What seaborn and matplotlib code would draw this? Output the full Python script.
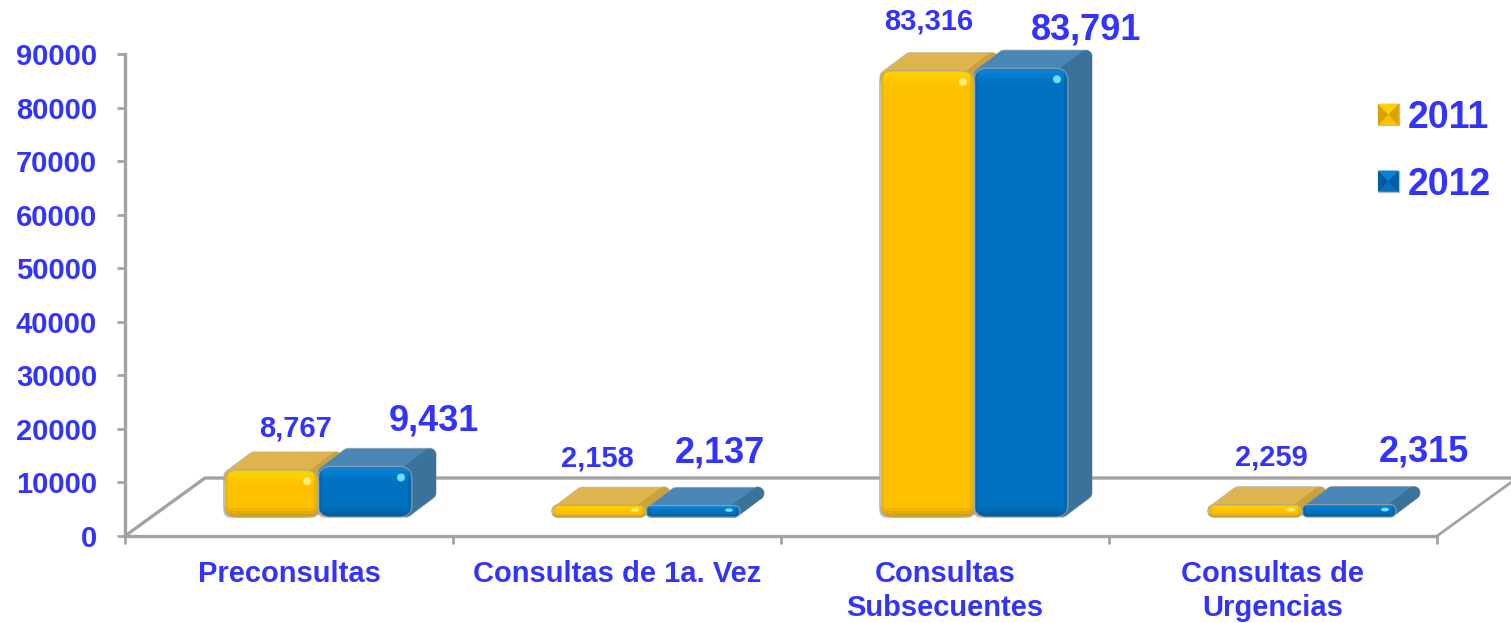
import matplotlib
matplotlib.use("Agg")
import matplotlib.pyplot as plt
import pandas as pd
import seaborn as sns
from matplotlib.patches import FancyBboxPatch, Polygon, Ellipse
from matplotlib.transforms import Affine2D, IdentityTransform

# %% DATA
categories = ["Preconsultas", "Consultas de 1a. Vez", "Consultas\nSubsecuentes", "Consultas de\nUrgencias"]
values_2011 = [8767, 2158, 83316, 2259]
values_2012 = [9431, 2137, 83791, 2315]
years = ["2011", "2012"]
y_ticks = [0, 10000, 20000, 30000, 40000, 50000, 60000, 70000, 80000, 90000]

# colours per year: front, top, side, light band, dark band, highlight
COLORS = {
    "2011": dict(front="#FFC000", top="#DDB44E", side="#C9A23C", light="#FFD000", dark="#D8A200", dot="#FFF08A"),
    "2012": dict(front="#0070C0", top="#4A86B6", side="#3A7299", light="#0A80D2", dark="#005C9E", dot="#7FE8FF"),
}
BLUE = "#3333FF"
GRAY = "#A3A3A3"

# 3D look, in pixels
SHIFT = (29, 19)      # bars sit in the middle of the floor
DEPTH = (24, 18)      # how far the top / side faces recede
FLOOR = (80, 58)
# label offsets from the top centre of each bar (px), set by hand in the original
nudge_2011 = [(24, 42), (-2, 47), (2, 49), (16, 47)]
nudge_2012 = [(69, 45), (27, 53), (65, 38), (75, 53)]

# %% FIGURE
sns.set_style("white")
plt.rcParams["font.family"] = ["Liberation Sans", "DejaVu Sans"]
plt.rcParams["font.weight"] = "bold"

W, H = 1511, 623
fig = plt.figure(figsize=(W / 100, H / 100), dpi=100)
ax = fig.add_axes([125 / W, (H - 536) / H, 1312 / W, 482 / H])

df = pd.DataFrame({
    "categoria": categories * 2,
    "valor": values_2011 + values_2012,
    "anio": [years[0]] * 4 + [years[1]] * 4,
})
sns.barplot(data=df, x="categoria", y="valor", hue="anio", order=categories, hue_order=years,
            palette={y: COLORS[y]["front"] for y in years}, width=0.573, saturation=1, ax=ax)

ax.set_xlim(-0.5, 3.5)
ax.set_ylim(0, 90000)
ax.set_xlabel("")
ax.set_ylabel("")
ax.set_yticks(y_ticks, [str(t) for t in y_ticks])
ax.set_xticks([-0.5, 0.5, 1.5, 2.5, 3.5], minor=True)
ax.tick_params(axis="x", which="major", length=0, pad=17, labelsize=21, labelcolor=BLUE)
ax.tick_params(axis="x", which="minor", length=6, width=2, color=GRAY, direction="out", bottom=True)
ax.tick_params(axis="y", length=6, width=2, color=GRAY, pad=14, labelsize=21, labelcolor=BLUE, left=True)
for lab in ax.get_xticklabels():
    lab.set_linespacing(1.28)
for side in ["top", "right"]:
    ax.spines[side].set_visible(False)
for side in ["left", "bottom"]:
    ax.spines[side].set_color(GRAY)
    ax.spines[side].set_linewidth(2.4)

# floor of the 3D box
fig.canvas.draw()
pix = IdentityTransform()
x_l, y_b = ax.transData.transform((-0.5, 0))
x_r, _ = ax.transData.transform((3.5, 0))
ax.plot([x_l, x_l + FLOOR[0], W], [y_b, y_b + FLOOR[1], y_b + FLOOR[1]], color=GRAY, lw=2.4,
        transform=pix, clip_on=False, zorder=1, solid_joinstyle="miter")
ax.plot([x_r, x_r + FLOOR[0]], [y_b, y_b + FLOOR[1]], color=GRAY, lw=2.0,
        transform=pix, clip_on=False, zorder=1)


def dress_bar(bar, year, z):
    """Turn a flat seaborn bar into the rounded 3D block of the original."""
    c = COLORS[year]
    (x0, y0), (x1, y1) = ax.transData.transform(
        [(bar.get_x(), 0), (bar.get_x() + bar.get_width(), bar.get_height())])
    x0 += SHIFT[0]; x1 += SHIFT[0]; y0 += SHIFT[1]; y1 += SHIFT[1]
    bar.set_transform(ax.transData + Affine2D().translate(*SHIFT))
    bar.set_zorder(z + 1)
    dx, dy = DEPTH
    r = 6
    hexa = [(x0 + r, y1 - r), (x0 + dx + r, y1 + dy - r), (x1 + dx - r, y1 + dy - r),
            (x1 + dx - r, y0 + dy + r), (x1 - r, y0 + r), (x0 + r, y0 + r)]
    kw = dict(transform=pix, clip_on=False, joinstyle="round", closed=True)
    ax.add_patch(Polygon(hexa, fc=GRAY, ec=GRAY, lw=9.6, alpha=0.7, zorder=z - 0.2, **kw))
    top = [(x0 + r, y1 - r), (x0 + dx + r, y1 + dy - r), (x1 + dx - r, y1 + dy - r), (x1 - r, y1 - r)]
    side = [(x1 - r, y1 - r), (x1 + dx - r, y1 + dy - r), (x1 + dx - r, y0 + dy + r), (x1 - r, y0 + r)]
    ax.add_patch(Polygon(top, fc=c["top"], ec=c["top"], lw=8.6, zorder=z, **kw))
    ax.add_patch(Polygon(side, fc=c["side"], ec=c["side"], lw=8.6, zorder=z + 0.1, **kw))

    h = y1 - y0
    rnd = min(13, h / 2)
    shape = FancyBboxPatch((x0, y0), x1 - x0, h, boxstyle=f"round,pad=0,rounding_size={rnd}",
                           transform=pix, fc="none", ec=GRAY, lw=0.8, alpha=0.8, clip_on=False, zorder=z + 3)
    ax.add_patch(shape)
    bar.set_clip_path(shape)

    # bevel bands on the front face, stepped so they fade out
    top_band = min(15, h * 0.5)
    low_band = min(9, h * 0.3)
    for step, alpha in enumerate([0.35, 0.6, 1.0]):
        th = top_band * (1 - step / 3)
        lh = low_band * (1 - step / 3)
        for (yy, hh, col) in [(y1 - th, th, c["light"]), (y0, lh, c["dark"])]:
            band = plt.Rectangle((x0, yy), x1 - x0, hh, fc=col, ec="none", alpha=alpha, transform=pix, zorder=z + 2)
            ax.add_patch(band)
            band.set_clip_path(shape)
    for xx, col in [(x0, c["dark"]), (x1 - 4, c["dark"])]:
        band = plt.Rectangle((xx, y0), 4, h, fc=col, ec="none", alpha=0.4, transform=pix, zorder=z + 2)
        ax.add_patch(band)
        band.set_clip_path(shape)
    ax.add_patch(Ellipse((x1 - 11, y1 - min(11, h * 0.4)), 8, min(8, h * 0.3), fc=c["dot"], ec="none",
                         alpha=0.9, transform=pix, clip_on=False, zorder=z + 2.5))
    return (x0 + x1) / 2, y1


# 2011 goes first so the 2012 block overlaps it
for i_year, (year, container, nudges, size) in enumerate(
        zip(years, ax.containers, [nudge_2011, nudge_2012], [21, 26])):
    for i_bar, bar in enumerate(container):
        xc, yt = dress_bar(bar, year, 3 + 10 * i_bar + 5 * i_year)
        val = bar.get_height()
        ax.text(xc + nudges[i_bar][0], yt + nudges[i_bar][1], f"{int(val):,}", transform=pix, color=BLUE,
                fontsize=size, fontweight="bold", ha="center", va="center", clip_on=False, zorder=80)

# legend
handles = [plt.Rectangle((0, 0), 1, 1, fc=COLORS[y]["front"], ec="#BDBDBD", lw=1) for y in years]
leg = ax.legend(handles, years, loc="upper left", bbox_to_anchor=(1253 / 1312, 0.905), frameon=False,
                prop={"size": 27, "weight": "bold"}, labelcolor=BLUE, handlelength=0.55, handleheight=0.5,
                handletextpad=0.25, labelspacing=0.82, borderpad=0, borderaxespad=0)
leg.set_zorder(90)
fig.canvas.draw()
for patch, y in zip(leg.get_patches(), years):
    b = patch.get_window_extent()
    cx, cy = (b.x0 + b.x1) / 2, (b.y0 + b.y1) / 2
    tri = [(b.x0, b.y0), (cx, cy), (b.x0, b.y1)]
    tri2 = [(b.x1, b.y0), (cx, cy), (b.x1, b.y1)]
    tri3 = [(b.x0, b.y1), (cx, cy), (b.x1, b.y1)]
    for pts, col in [(tri, COLORS[y]["dark"]), (tri2, COLORS[y]["dark"]), (tri3, COLORS[y]["light"])]:
        ax.add_patch(Polygon(pts, fc=col, ec="none", transform=pix, clip_on=False, zorder=95))

fig.savefig("out.png", dpi=100)
plt.close(fig)
